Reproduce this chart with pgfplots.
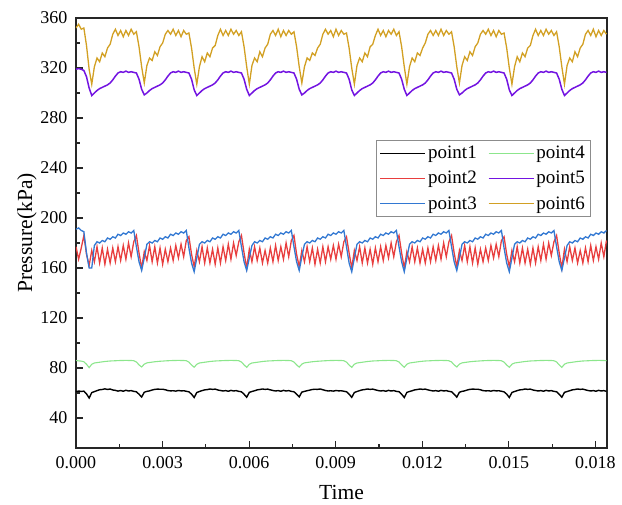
\documentclass[border=0pt]{standalone}
\usepackage{fontspec}
\setmainfont{Liberation Serif}
\usepackage{pgfplots}
\usepackage{pgfplotstable}
\pgfplotsset{compat=1.18}

\definecolor{cP1}{RGB}{0,0,0}
\definecolor{cP2}{RGB}{232,62,62}
\definecolor{cP3}{RGB}{50,120,210}
\definecolor{cP4}{RGB}{140,230,140}
\definecolor{cP5}{RGB}{115,20,225}
\definecolor{cP6}{RGB}{210,160,35}

% long line samples in the legend
\pgfplotsset{longline legend/.style={
  legend image code/.code={\draw[##1, line width=1.5pt] (0pt,0pt) -- (45pt,0pt);}}}

% Pressure at six monitoring points (kPa) against time (s)
\pgfplotstableread{
t p1 p2 p3 p4 p5 p6
0.000000 61.0 177 191 86.0 319 352
0.000091 61.6 167 192 85.7 319.5 355
0.000182 61.2 176 190 85.5 319 351
0.000273 61.5 186 189 85.0 318 352
0.000364 59.3 171 172 83.0 313 338
0.000455 56.0 162 160 80.3 304 319
0.000546 60.3 174 160 83.0 298 307
0.000637 61.1 165 178 84.0 300 321
0.000728 61.9 177 181 84.3 302 328
0.000819 62.6 164 180 84.6 303.5 325
0.000910 62.8 176 182 84.9 304.5 332
0.001001 63.3 163 181 85.2 305.5 329
0.001092 62.8 175 184 85.4 306.5 336
0.001183 63.2 164 183 85.6 308 339
0.001274 62.4 176 185 85.7 310.5 347
0.001365 62.1 165 184 85.8 313.5 351
0.001456 61.5 177 187 85.9 316 346
0.001547 62.0 166 186 86.0 317 350
0.001638 61.4 178 188 86.0 316.5 345
0.001729 62.2 167 187 86.1 317.5 350
0.001820 61.6 180 189 86.0 316.5 346
0.001911 61.9 169 188 86.0 317 351
0.002002 61.3 181 190 85.8 316.5 347
0.002093 61.0 186 177 84.8 316 349
0.002184 59.0 172 165 82.5 311 337
0.002275 56.8 160 158 80.8 303 321
0.002366 60.6 173 168 83.1 298.5 308
0.002457 61.3 166 179 84.1 300 322
0.002548 61.7 178 181 84.4 302 328
0.002639 62.4 165 180 84.7 303.5 326
0.002730 62.9 177 182 85.0 304.5 333
0.002821 63.1 164 181 85.2 305.5 330
0.002912 63.0 176 184 85.4 306.5 337
0.003003 63.0 163 183 85.5 308 340
0.003094 62.6 175 185 85.7 310.5 347
0.003185 61.9 165 184 85.8 313.5 350
0.003276 61.7 176 187 85.9 316 347
0.003367 61.8 166 186 86.0 317 351
0.003458 61.5 178 188 86.0 316.5 346
0.003549 62.0 168 187 86.1 317.5 350
0.003640 61.7 179 189 86.0 316.5 345
0.003731 61.8 169 188 86.0 317 350
0.003822 61.4 182 190 85.8 316.5 347
0.003913 60.9 185 176 84.7 316 348
0.004004 59.1 171 164 82.4 311 336
0.004095 56.4 161 157 80.6 302.5 320
0.004186 60.4 174 168 83.0 298 307
0.004277 61.2 165 179 84.0 300 321
0.004368 61.9 177 181 84.3 302 329
0.004459 62.5 164 180 84.6 303.5 325
0.004550 62.7 176 182 84.9 304.5 332
0.004641 63.2 164 181 85.2 305.5 329
0.004732 62.9 175 184 85.4 306.5 336
0.004823 63.1 163 183 85.6 308 338
0.004914 62.4 176 185 85.7 310.5 346
0.005005 62.0 164 184 85.8 313.5 351
0.005096 61.6 177 187 85.9 316 346
0.005187 61.9 166 186 86.0 317 350
0.005278 61.4 179 188 86.0 316.5 346
0.005369 62.1 167 187 86.1 317.5 351
0.005460 61.6 180 189 86.0 316.5 347
0.005551 61.9 170 188 86.0 317 350
0.005642 61.3 181 190 85.8 316.5 346
0.005733 61.0 186 177 84.8 316 349
0.005824 59.0 172 165 82.5 311 337
0.005915 56.6 160 158 80.5 303 321
0.006006 60.5 175 168 83.0 298 307
0.006097 61.2 165 178 84.0 300 322
0.006188 61.8 177 181 84.3 302 328
0.006279 62.5 166 180 84.6 303.5 325
0.006370 62.8 176 182 84.9 304.5 333
0.006461 63.2 164 181 85.2 305.5 329
0.006552 62.9 174 184 85.4 306.5 336
0.006643 63.1 164 183 85.6 308 339
0.006734 62.5 176 185 85.7 310.5 347
0.006825 62.0 165 184 85.8 313.5 350
0.006916 61.6 178 187 85.9 316 346
0.007007 61.9 166 186 86.0 317 351
0.007098 61.4 177 188 86.0 316.5 345
0.007189 62.1 167 187 86.1 317.5 350
0.007280 61.6 180 189 86.0 316.5 346
0.007371 61.9 169 188 86.0 317 350
0.007462 61.3 182 190 85.8 316.5 347
0.007553 61.0 186 177 84.8 316 349
0.007644 59.0 171 165 82.5 311 337
0.007735 56.9 161 158 80.7 303 321
0.007826 60.7 174 169 83.1 298.5 308
0.007917 61.3 165 179 84.1 300 321
0.008008 61.8 177 181 84.4 302 328
0.008099 62.3 165 180 84.7 303.5 326
0.008190 62.8 176 182 85.0 304.5 332
0.008281 63.0 163 181 85.2 305.5 330
0.008372 62.9 175 184 85.4 306.5 336
0.008463 63.2 164 183 85.5 308 339
0.008554 62.6 177 185 85.7 310.5 347
0.008645 62.0 165 184 85.8 313.5 351
0.008736 61.6 177 187 85.9 316 347
0.008827 61.8 167 186 86.0 317 350
0.008918 61.5 178 188 86.0 316.5 345
0.009009 62.0 167 187 86.1 317.5 351
0.009100 61.7 179 189 86.0 316.5 346
0.009191 61.8 169 188 86.0 317 350
0.009282 61.4 181 190 85.8 316.5 347
0.009373 61.0 185 177 84.7 316 348
0.009464 59.1 172 164 82.4 311 336
0.009555 56.5 160 157 80.5 302.5 320
0.009646 60.4 174 168 83.0 298 307
0.009737 61.2 166 179 84.0 300 322
0.009828 61.9 177 181 84.3 302 328
0.009919 62.5 164 180 84.6 303.5 325
0.010010 62.8 176 182 84.9 304.5 332
0.010101 63.2 164 181 85.2 305.5 329
0.010192 62.9 175 184 85.4 306.5 337
0.010283 63.1 163 183 85.6 308 339
0.010374 62.5 176 185 85.7 310.5 346
0.010465 62.0 165 184 85.8 313.5 351
0.010556 61.6 177 187 85.9 316 346
0.010647 61.9 166 186 86.0 317 350
0.010738 61.4 178 188 86.0 316.5 345
0.010829 62.1 168 187 86.1 317.5 350
0.010920 61.6 180 189 86.0 316.5 347
0.011011 61.9 169 188 86.0 317 351
0.011102 61.3 181 190 85.8 316.5 346
0.011193 61.0 186 177 84.8 316 349
0.011284 59.0 172 165 82.5 311 337
0.011375 56.4 160 157 80.6 303 321
0.011466 60.5 173 168 83.0 298 307
0.011557 61.2 165 179 84.0 300 321
0.011648 61.8 177 181 84.3 302 328
0.011739 62.5 165 180 84.6 303.5 325
0.011830 62.8 176 182 84.9 304.5 332
0.011921 63.2 164 181 85.2 305.5 330
0.012012 62.9 175 184 85.4 306.5 336
0.012103 63.1 164 183 85.6 308 340
0.012194 62.5 176 185 85.7 310.5 347
0.012285 62.0 165 184 85.8 313.5 350
0.012376 61.6 177 187 85.9 316 346
0.012467 61.9 166 186 86.0 317 350
0.012558 61.4 178 188 86.0 316.5 346
0.012649 62.1 167 187 86.1 317.5 351
0.012740 61.6 180 189 86.0 316.5 346
0.012831 61.9 169 188 86.0 317 350
0.012922 61.3 181 190 85.8 316.5 347
0.013013 61.0 186 177 84.8 316 349
0.013104 59.0 172 165 82.5 311 337
0.013195 56.7 161 158 80.8 303 321
0.013286 60.6 174 168 83.1 298.5 308
0.013377 61.3 166 179 84.1 300 322
0.013468 61.7 178 181 84.4 302 329
0.013559 62.4 165 180 84.7 303.5 326
0.013650 62.9 177 182 85.0 304.5 333
0.013741 63.1 164 181 85.2 305.5 330
0.013832 63.0 176 184 85.4 306.5 337
0.013923 63.0 163 183 85.5 308 340
0.014014 62.6 175 185 85.7 310.5 347
0.014105 61.9 165 184 85.8 313.5 350
0.014196 61.7 176 187 85.9 316 347
0.014287 61.8 166 186 86.0 317 351
0.014378 61.5 178 188 86.0 316.5 346
0.014469 62.0 168 187 86.1 317.5 350
0.014560 61.7 179 189 86.0 316.5 345
0.014651 61.8 169 188 86.0 317 350
0.014742 61.4 182 190 85.8 316.5 347
0.014833 60.9 185 176 84.7 316 348
0.014924 59.1 171 164 82.4 311 336
0.015015 56.4 161 157 80.6 302.5 320
0.015106 60.4 174 168 83.0 298 307
0.015197 61.2 165 179 84.0 300 321
0.015288 61.9 177 181 84.3 302 329
0.015379 62.5 164 180 84.6 303.5 325
0.015470 62.7 176 182 84.9 304.5 332
0.015561 63.2 164 181 85.2 305.5 329
0.015652 62.9 175 184 85.4 306.5 336
0.015743 63.1 163 183 85.6 308 338
0.015834 62.4 176 185 85.7 310.5 346
0.015925 62.0 164 184 85.8 313.5 351
0.016016 61.6 177 187 85.9 316 346
0.016107 61.9 166 186 86.0 317 350
0.016198 61.4 179 188 86.0 316.5 346
0.016289 62.1 167 187 86.1 317.5 351
0.016380 61.6 180 189 86.0 316.5 347
0.016471 61.9 170 188 86.0 317 350
0.016562 61.3 181 190 85.8 316.5 346
0.016653 61.0 186 177 84.8 316 349
0.016744 59.0 172 165 82.5 311 337
0.016835 56.6 160 158 80.5 303 321
0.016926 60.5 175 168 83.0 298 307
0.017017 61.2 165 178 84.0 300 322
0.017108 61.8 177 181 84.3 302 328
0.017199 62.5 166 180 84.6 303.5 325
0.017290 62.8 176 182 84.9 304.5 333
0.017381 63.2 164 181 85.2 305.5 329
0.017472 62.9 174 184 85.4 306.5 336
0.017563 63.1 164 183 85.6 308 339
0.017654 62.5 176 185 85.7 310.5 347
0.017745 62.0 165 184 85.8 313.5 350
0.017836 61.6 178 187 85.9 316 346
0.017927 61.9 166 186 86.0 317 351
0.018018 61.4 177 188 86.0 316.5 345
0.018109 62.1 167 187 86.1 317.5 350
0.018200 61.6 180 189 86.0 316.5 346
0.018291 61.9 169 188 86.0 317 350
0.018382 61.3 182 190 85.8 316.5 347
}\pressure

\begin{document}
\begin{tikzpicture}
\path[use as bounding box] (-76pt,-57pt) rectangle (546pt,448pt);
\begin{axis}[
  at={(0pt,0pt)}, anchor=south west,
  scale only axis,
  width=531pt, height=430pt,
  xmin=0, xmax=0.0184,
  ymin=16, ymax=360,
  xtick={0,0.003,0.006,0.009,0.012,0.015,0.018},
  ytick={40,80,120,160,200,240,280,320,360},
  minor x tick num=1,
  minor y tick num=1,
  xtick pos=bottom, ytick pos=left,
  tick align=inside,
  major tick length=7pt,
  minor tick length=4pt,
  scaled x ticks=false,
  /pgf/number format/assume math mode=true,
  tick label style={font=\rmfamily\fontsize{18}{20}\selectfont},
  xticklabel style={yshift=-5pt, /pgf/number format/.cd, fixed, fixed zerofill, precision=3},
  yticklabel style={xshift=-5pt},
  label style={font=\rmfamily\fontsize{21.5}{24}\selectfont},
  xlabel={Time},
  ylabel={Pressure(kPa)},
  xlabel style={at={(axis description cs:0.5,0)}, anchor=center, yshift=-44pt},
  ylabel style={at={(axis description cs:-0.0923,0.5)}, anchor=center},
  axis line style={line width=1.2pt, black!85},
  every tick/.style={line width=1.1pt, black!85},
  legend columns=2,
  legend cell align=left,
  longline legend,
  legend style={
    name=leg,
    at={(rel axis cs:0.968,0.716)}, anchor=north east,
    draw=none, fill=white,
    font=\rmfamily\fontsize{19}{21}\selectfont,
    inner xsep=3pt, inner ysep=4pt,
    row sep=7pt,
    /tikz/every even column/.append style={column sep=9pt},
  },
]
\addplot[cP1, line width=1.4pt] table[x=t, y=p1] {\pressure};
\addlegendentry{point1}
\addplot[cP4, line width=1.1pt] table[x=t, y=p4] {\pressure};
\addlegendentry{point4}
\addplot[cP2, line width=1.3pt] table[x=t, y=p2] {\pressure};
\addlegendentry{point2}
\addplot[cP5, line width=1.5pt] table[x=t, y=p5] {\pressure};
\addlegendentry{point5}
\addplot[cP3, line width=1.3pt] table[x=t, y=p3] {\pressure};
\addlegendentry{point3}
\addplot[cP6, line width=1.3pt] table[x=t, y=p6] {\pressure};
\addlegendentry{point6}
\end{axis}
% legend frame
\draw[black!45, line width=0.8pt] (leg.south west) rectangle (leg.north east);
\end{tikzpicture}
\end{document}
